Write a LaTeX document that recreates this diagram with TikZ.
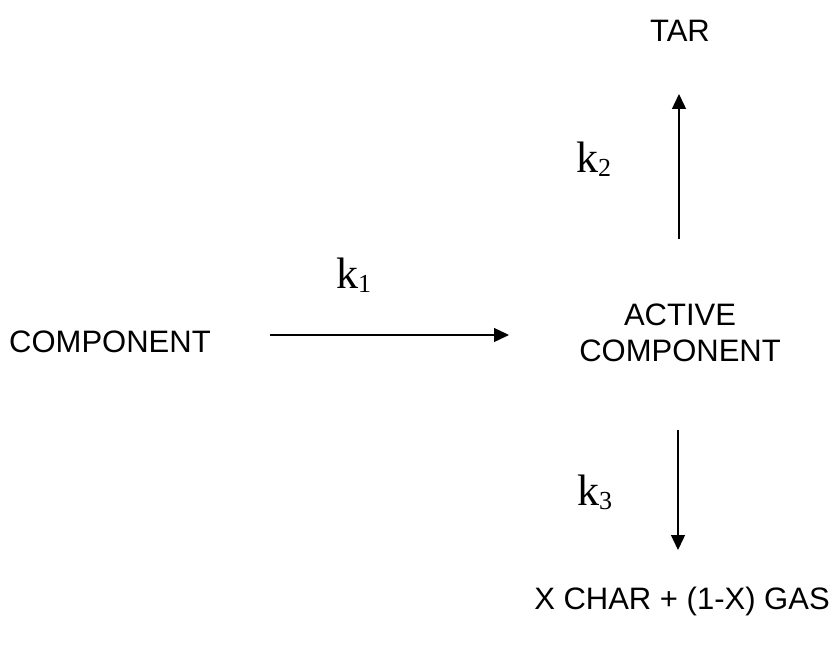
\documentclass[tikz,border=0pt]{standalone}
\usepackage{fontspec}
\setmainfont{Liberation Sans}
\newfontfamily\kfont{Liberation Serif}
\usetikzlibrary{arrows.meta}
\newcommand{\ksub}[1]{k\raisebox{-4pt}{\fontsize{26}{30}\selectfont #1}}
\tikzset{
  lbl/.style={font=\fontsize{31}{36}\selectfont, align=center, inner sep=0pt},
  klbl/.style={font=\kfont\fontsize{44}{50}\selectfont, inner sep=0pt, anchor=base west},
  conn/.style={line width=1.4pt, -{Triangle[length=15pt,width=14pt]}}
}
\begin{document}
\begin{tikzpicture}[x=1pt,y=-1pt]
\useasboundingbox (0,0) rectangle (838,650);
\node[lbl] (tar) at (680,31) {TAR};
\node[lbl] (act) at (680,333) {ACTIVE\\COMPONENT};
\node[lbl, anchor=base west] (comp) at (9,352) {COMPONENT};
\node[lbl] (prod) at (682,601) {X CHAR + (1-X) GAS};
\node[klbl] (k1) at (336,288) {\ksub{1}};
\node[klbl] (k2) at (576,172) {\ksub{2}};
\node[klbl] (k3) at (577,505) {\ksub{3}};
\coordinate (a1s) at (270,335);
\coordinate (a1e) at (509,335);
\coordinate (a2s) at (679,239);
\coordinate (a2e) at (679,94);
\coordinate (a3s) at (678,430);
\coordinate (a3e) at (678,550);
\draw[conn] (a1s) -- (a1e);
\draw[conn] (a2s) -- (a2e);
\draw[conn] (a3s) -- (a3e);
\end{tikzpicture}
\end{document}
